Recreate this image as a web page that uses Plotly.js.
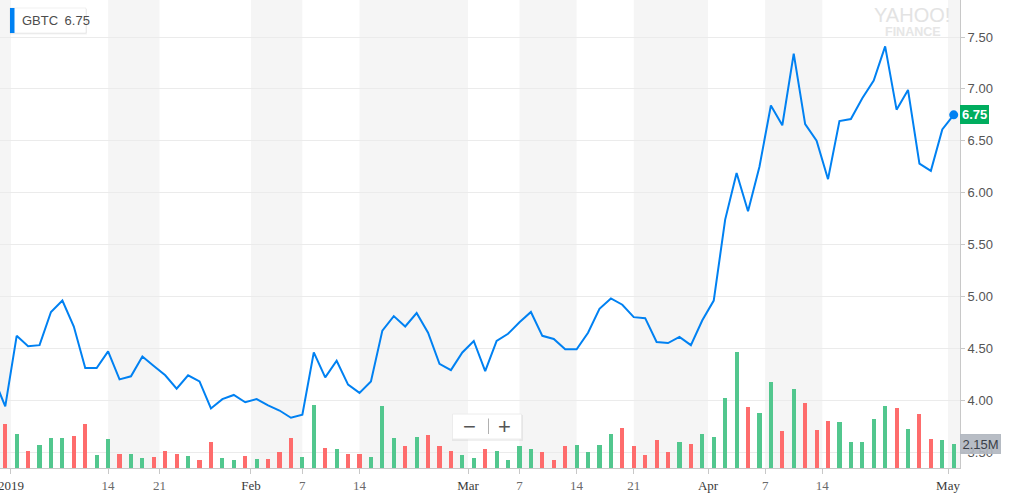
<!DOCTYPE html>
<html>
<head>
<meta charset="utf-8">
<script src="https://cdn.plot.ly/plotly-3.0.1.min.js"></script>
<style>
html,body{margin:0;padding:0;background:#fff;}
#chart{width:1024px;height:494px;}
</style>
</head>
<body>
<div id="chart"></div>
<script>
// ---------- DATA ----------
const symbol = "GBTC";
const dates = [
"2018-12-28","2018-12-31",
"2019-01-02","2019-01-03","2019-01-04","2019-01-07","2019-01-08","2019-01-09","2019-01-10","2019-01-11",
"2019-01-14","2019-01-15","2019-01-16","2019-01-17","2019-01-18","2019-01-22","2019-01-23","2019-01-24","2019-01-25",
"2019-01-28","2019-01-29","2019-01-30","2019-01-31",
"2019-02-01","2019-02-04","2019-02-05","2019-02-06","2019-02-07","2019-02-08","2019-02-11","2019-02-12","2019-02-13",
"2019-02-14","2019-02-15","2019-02-19","2019-02-20","2019-02-21","2019-02-22","2019-02-25","2019-02-26","2019-02-27","2019-02-28",
"2019-03-01","2019-03-04","2019-03-05","2019-03-06","2019-03-07","2019-03-08","2019-03-11","2019-03-12","2019-03-13",
"2019-03-14","2019-03-15","2019-03-18","2019-03-19","2019-03-20","2019-03-21","2019-03-22","2019-03-25","2019-03-26",
"2019-03-27","2019-03-28","2019-03-29",
"2019-04-01","2019-04-02","2019-04-03","2019-04-04","2019-04-05","2019-04-08","2019-04-09","2019-04-10","2019-04-11",
"2019-04-12","2019-04-15","2019-04-16","2019-04-17","2019-04-18","2019-04-22","2019-04-23","2019-04-24","2019-04-25",
"2019-04-26","2019-04-29","2019-04-30",
"2019-05-01"
];
const closePrice = [
4.21,3.94,
4.62,4.52,4.53,4.85,4.96,4.71,4.31,4.31,
4.47,4.20,4.23,4.42,4.33,4.24,4.11,4.24,4.18,
3.92,4.01,4.05,3.98,
4.01,3.95,3.90,3.83,3.86,4.46,4.22,4.38,4.15,
4.07,4.18,4.67,4.81,4.71,4.84,4.65,4.35,4.29,4.46,
4.57,4.28,4.57,4.64,4.75,4.85,4.62,4.59,4.49,
4.49,4.65,4.88,4.98,4.92,4.80,4.79,4.56,4.55,
4.61,4.53,4.77,
4.96,5.74,6.19,5.82,6.25,6.84,6.65,7.34,6.66,
6.50,6.13,6.69,6.71,6.91,7.08,7.41,6.80,6.99,
6.28,6.21,6.61,
6.75
];
// volume in millions of shares
const volumeM = [
null,3.94,
3.05,1.52,2.06,2.69,2.69,2.87,3.94,1.16,
2.60,1.25,1.25,0.90,0.99,1.52,1.25,1.08,0.72,
2.33,0.90,0.72,1.08,
0.81,0.81,1.43,2.69,0.99,5.64,1.79,1.70,1.25,
1.25,0.99,5.56,2.69,1.97,2.78,2.96,1.97,1.52,1.16,
0.90,1.70,1.52,0.72,1.97,1.70,1.43,0.72,1.97,
2.06,1.43,2.06,3.05,3.58,1.97,1.16,2.51,1.43,
2.33,2.15,3.05,
2.78,6.27,10.39,5.47,4.93,7.71,3.32,7.08,5.82,
3.40,4.21,4.12,2.33,2.33,4.39,5.56,5.38,3.49,
4.84,2.60,2.51,
2.15
];
const tickDates = ["2019-01-01","2019-01-14","2019-01-21","2019-02-01","2019-02-07","2019-02-14",
  "2019-03-01","2019-03-07","2019-03-14","2019-03-21","2019-04-01","2019-04-07","2019-04-14","2019-05-01"];
const tickLabels = ["2019","14","21","Feb","7","14","Mar","7","14","21","Apr","7","14","May"];

// ---------- DERIVED ----------
const idx = dates.map((d,i)=>i);
const barColors = closePrice.map((c,i)=> (i===0 || c >= closePrice[i-1]) ? '#52c78e' : '#fe6c6c');
const isMonth = l => isNaN(+l) || l.length===4;
const tickPos = tickDates.map((td,k)=>{
  const i = dates.findIndex(d => d >= td);
  return (isNaN(+tickLabels[k]) || dates[i] !== td) ? i - 0.5 : i;
});
const tickText = tickLabels.map(l => isMonth(l) ? '<span style="color:#3a3a3a">'+l+'</span>' : l);
const last = idx.length-1;
const lastPrice = closePrice[last];
const lastVol = volumeM[last];

const xr = [0.54, 84.55];
const W = 960, H = 468;
const px = p => p/W, py = p => (H-p)/H;

// alternating stripes between consecutive ticks
const bounds = [xr[0], ...tickPos, xr[1]];
const shapes = [];
for (let k=0; k<bounds.length-1; k+=2) {
  shapes.push({type:'rect', xref:'x', yref:'paper', x0:bounds[k], x1:bounds[k+1], y0:0, y1:1,
    fillcolor:'#f5f5f5', line:{width:0}, layer:'below'});
}
// legend box
shapes.push({type:'rect', xref:'paper', yref:'paper', x0:px(10), x1:px(87), y0:py(34.5), y1:py(9),
  fillcolor:'rgba(0,0,0,0.05)', line:{width:0}, layer:'above'});
shapes.push({type:'rect', xref:'paper', yref:'paper', x0:px(10), x1:px(86), y0:py(33), y1:py(8),
  fillcolor:'#ffffff', line:{color:'rgba(0,0,0,0.06)', width:1}, layer:'above'});
shapes.push({type:'rect', xref:'paper', yref:'paper', x0:px(10), x1:px(14.5), y0:py(33), y1:py(8),
  fillcolor:'#0081f2', line:{width:0}, layer:'above'});
// zoom control box
shapes.push({type:'rect', xref:'paper', yref:'paper', x0:px(452), x1:px(523), y0:py(441), y1:py(415),
  fillcolor:'rgba(0,0,0,0.06)', line:{width:0}, layer:'above'});
shapes.push({type:'rect', xref:'paper', yref:'paper', x0:px(452.5), x1:px(521.5), y0:py(439), y1:py(414),
  fillcolor:'#ffffff', line:{color:'#ececec', width:1}, layer:'above'});
shapes.push({type:'line', xref:'paper', yref:'paper', x0:px(488.5), x1:px(488.5), y0:py(434), y1:py(418.5),
  line:{color:'#b0b0b0', width:1}, layer:'above'});

const annotations = [
  {xref:'paper', yref:'paper', x:px(20), y:py(20.5), xanchor:'left', yanchor:'middle', showarrow:false,
   text: symbol + '\u2002' + lastPrice.toFixed(2), font:{family:'Liberation Sans, Arial', size:13, color:'#4d4d4d'}},
  {xref:'paper', yref:'paper', x:px(911.5), y:py(15.5), xanchor:'center', yanchor:'middle', showarrow:false,
   text:'YAHOO!', font:{family:'Liberation Sans, Arial', size:20, color:'#e3e3e3'}},
  {xref:'paper', yref:'paper', x:px(912.5), y:py(32), xanchor:'center', yanchor:'middle', showarrow:false,
   text:'<b>FINANCE</b>', font:{family:'Liberation Sans, Arial', size:12.5, color:'#e6e6e6'}},
  {xref:'paper', yref:'paper', x:px(469.5), y:py(426.5), xanchor:'center', yanchor:'middle', showarrow:false,
   text:'\u2212', font:{family:'Liberation Sans, Arial', size:22, color:'#555'}},
  {xref:'paper', yref:'paper', x:px(504.5), y:py(426.5), xanchor:'center', yanchor:'middle', showarrow:false,
   text:'+', font:{family:'Liberation Sans, Arial', size:22, color:'#555'}},
  {xref:'paper', yref:'y', x:1, y:lastPrice, xanchor:'left', yanchor:'middle', showarrow:false,
   text:'<b>'+lastPrice.toFixed(2)+'</b>', bgcolor:'#00ad5f', bordercolor:'#00ad5f', borderpad:1,
   font:{family:'Liberation Sans, Arial', size:13, color:'#ffffff'}},
  {xref:'paper', yref:'y2', x:1, y:lastVol, xanchor:'left', yanchor:'middle', showarrow:false,
   text:lastVol.toFixed(2)+'M', bgcolor:'rgba(178,183,192,0.92)', bordercolor:'rgba(178,183,192,0.92)', borderpad:1.5,
   font:{family:'Liberation Sans, Arial', size:13, color:'#3a3f48'}}
];

const traces = [
  {type:'scatter', mode:'lines', x:idx, y:closePrice, xaxis:'x', yaxis:'y',
   line:{color:'#0081f2', width:2}, hoverinfo:'skip'},
  {type:'bar', x:idx, y:volumeM, xaxis:'x', yaxis:'y2', width:0.36,
   marker:{color:barColors, line:{width:0}}, hoverinfo:'skip'},
  {type:'scatter', mode:'markers', x:[idx[last]], y:[lastPrice], xaxis:'x', yaxis:'y',
   marker:{color:'#0081f2', size:9}, cliponaxis:false, hoverinfo:'skip'}
];

const layout = {
  width:1024, height:494,
  margin:{l:0, r:64, t:0, b:26, pad:0},
  paper_bgcolor:'#ffffff', plot_bgcolor:'#ffffff',
  showlegend:false,
  xaxis:{type:'linear', range:xr, tickmode:'array', tickvals:tickPos, ticktext:tickText,
    ticks:'outside', ticklen:5, tickcolor:'#c8c8c8', showline:true, linecolor:'#c8c8c8', linewidth:1,
    showgrid:false, zeroline:false, fixedrange:true, ticklabeloverflow:'allow',
    tickfont:{family:'Liberation Serif, Times New Roman, serif', size:13, color:'#6a6a6a'}},
  yaxis:{side:'right', range:[3.346, 7.857], tick0:0, dtick:0.5, tickformat:'.2f',
    ticks:'outside', ticklen:4, tickcolor:'#c8c8c8', showline:true, linecolor:'#c8c8c8', linewidth:1,
    showgrid:true, gridcolor:'#ebebeb', gridwidth:1, zeroline:false,
    tickfont:{family:'Liberation Sans, Arial', size:13, color:'#555'}},
  yaxis2:{overlaying:'y', range:[0, 41.93], visible:false, showgrid:false, zeroline:false},
  bargap:0,
  shapes:shapes,
  annotations:annotations
};

Plotly.newPlot('chart', traces, layout, {staticPlot:true, displayModeBar:false});
</script>
</body>
</html>
